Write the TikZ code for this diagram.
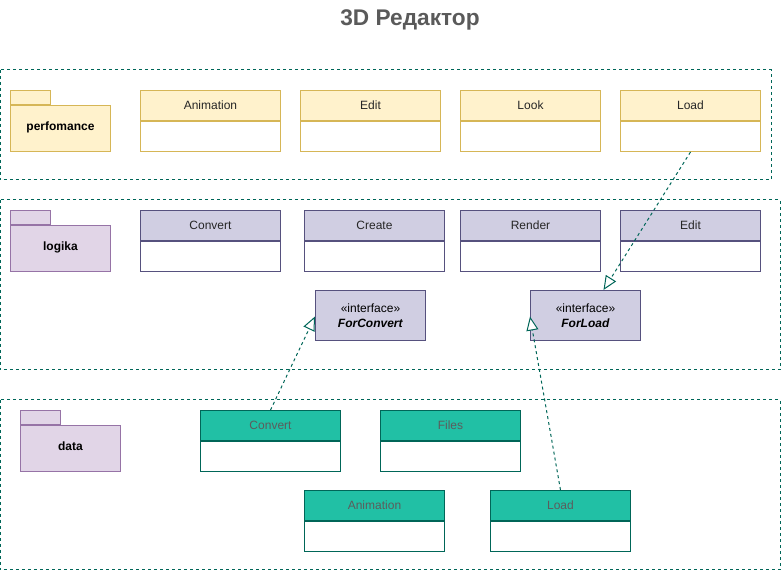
\documentclass[tikz,border=0pt]{standalone}
\usepackage{fontspec}
\setmainfont{Liberation Sans}
\usetikzlibrary{positioning,arrows.meta,calc}
\definecolor{frameC}{HTML}{006658}
\definecolor{yelF}{HTML}{FFF2CC}
\definecolor{yelD}{HTML}{D6B656}
\definecolor{lilF}{HTML}{D0CEE2}
\definecolor{lilD}{HTML}{56517E}
\definecolor{pkgF}{HTML}{E1D5E7}
\definecolor{pkgD}{HTML}{9673A6}
\definecolor{grnF}{HTML}{21C0A5}
\definecolor{grnT}{HTML}{5C5C5C}
\definecolor{ttlC}{HTML}{5A5A5A}

\begin{document}
\begin{tikzpicture}[x=0.75pt,y=0.75pt,yscale=-1,xscale=1,
  frame/.style={draw=frameC,dash pattern=on 2.25pt off 2.25pt,line width=0.75pt},
  head/.style={minimum width=105pt,minimum height=22.5pt,inner sep=0pt,anchor=north west,line width=0.75pt,font=\fontsize{9}{11}\selectfont},
  body/.style={minimum width=105pt,minimum height=22.5pt,inner sep=0pt,line width=0.75pt,fill=white,below=0pt of #1},
  yhead/.style={head,draw=yelD,fill=yelF,text=black!85},
  lhead/.style={head,draw=lilD,fill=lilF,text=black!85},
  ghead/.style={head,draw=frameC,fill=grnF,text=grnT},
  tab/.style={minimum width=30pt,minimum height=10.5pt,inner sep=0pt,anchor=north west,line width=0.75pt},
  pkg/.style={minimum width=75pt,minimum height=34.5pt,inner sep=0pt,text height=7pt,text depth=4.5pt,line width=0.75pt,font=\bfseries\fontsize{9}{11}\selectfont,below right=0pt and 0pt of #1.south west},
  iface/.style={draw=lilD,fill=lilF,minimum width=82.5pt,minimum height=37.5pt,inner sep=0pt,anchor=north west,line width=0.75pt,align=center,font=\fontsize{9}{11}\selectfont},
  real/.style={draw=frameC,dash pattern=on 2.25pt off 2.25pt,line width=0.75pt,-{Triangle[open,length=10.5pt,width=9pt,fill=white]}}]
\useasboundingbox (0,0) rectangle (783,573);

% title
\node (title) at (410,20) [font=\bfseries\fontsize{17}{20}\selectfont,text=ttlC] {3D Редактор};

% layers
\draw [frame] (0,70) rectangle (771,180);
\draw [frame] (0,200) rectangle (780,370);
\draw [frame] (0,400) rectangle (780,570);

% packages
\node (perfT) at (10,90) [tab,draw=yelD,fill=yelF] {};
\node (perf) [pkg=perfT,draw=yelD,fill=yelF] {perfomance};
\node (logT) at (10,210) [tab,draw=pkgD,fill=pkgF] {};
\node (log) [pkg=logT,draw=pkgD,fill=pkgF] {logika};
\node (datT) at (20,410) [tab,draw=pkgD,fill=pkgF] {};
\node (dat) [pkg=datT,draw=pkgD,fill=pkgF] {data};

% perfomance classes
\node (animP) at (140,90) [yhead] {Animation};
\node (animPb) [body=animP,draw=yelD] {};
\node (editP) at (300,90) [yhead] {Edit};
\node (editPb) [body=editP,draw=yelD] {};
\node (lookP) at (460,90) [yhead] {Look};
\node (lookPb) [body=lookP,draw=yelD] {};
\node (loadP) at (620,90) [yhead] {Load};
\node (loadPb) [body=loadP,draw=yelD] {};

% logika classes
\node (convL) at (140,210) [lhead] {Convert};
\node (convLb) [body=convL,draw=lilD] {};
\node (creaL) at (304,210) [lhead] {Create};
\node (creaLb) [body=creaL,draw=lilD] {};
\node (rendL) at (460,210) [lhead] {Render};
\node (rendLb) [body=rendL,draw=lilD] {};
\node (editL) at (620,210) [lhead] {Edit};
\node (editLb) [body=editL,draw=lilD] {};
\node (forConvert) at (315,290) [iface] {«interface»\\\textbf{\textit{ForConvert}}};
\node (forLoad) at (530,290) [iface] {«interface»\\\textbf{\textit{ForLoad}}};

% data classes
\node (convD) at (200,410) [ghead] {Convert};
\node (convDb) [body=convD,draw=frameC] {};
\node (fileD) at (380,410) [ghead] {Files};
\node (fileDb) [body=fileD,draw=frameC] {};
\node (animD) at (304,490) [ghead] {Animation};
\node (animDb) [body=animD,draw=frameC] {};
\node (loadD) at (490,490) [ghead] {Load};
\node (loadDb) [body=loadD,draw=frameC] {};

% realizations
\draw [real] (loadPb.south) -- ($(forLoad.north)+(18,0)$);
\draw [real] (convD.north) -- ($(forConvert.west)+(0,1)$);
\draw [real] (loadD.north) -- ($(forLoad.west)+(0,1)$);
\end{tikzpicture}
\end{document}
